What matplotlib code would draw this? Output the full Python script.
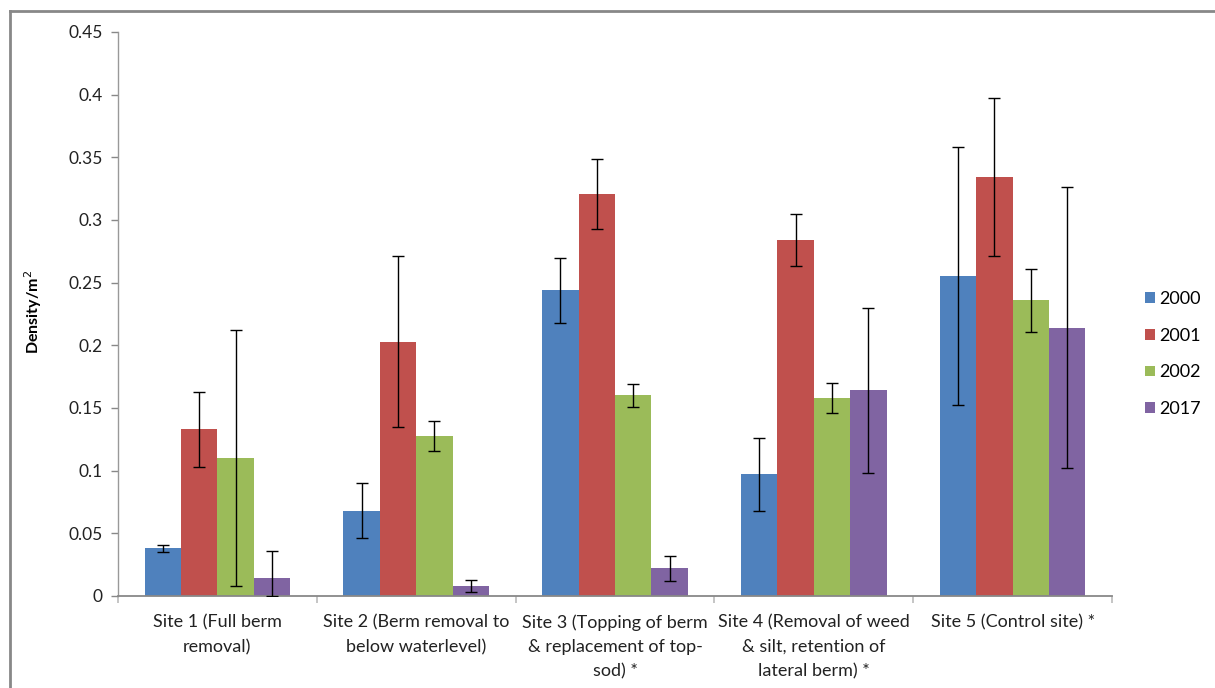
import matplotlib
matplotlib.use("Agg")
import matplotlib.pyplot as plt
import numpy as np
from matplotlib.lines import Line2D

plt.rcParams['font.family'] = ['Lato', 'DejaVu Sans']

sites = [
    "Site 1 (Full berm\nremoval)",
    "Site 2 (Berm removal to\nbelow waterlevel)",
    "Site 3 (Topping of berm\n& replacement of top-\nsod) *",
    "Site 4 (Removal of weed\n& silt, retention of\nlateral berm) *",
    "Site 5 (Control site) *",
]
years = ["2000", "2001", "2002", "2017"]
colors = ["#4F81BD", "#C0504D", "#9BBB59", "#8064A2"]

density_2000 = [0.038, 0.068, 0.244, 0.097, 0.255]
density_2001 = [0.133, 0.203, 0.321, 0.284, 0.334]
density_2002 = [0.110, 0.128, 0.160, 0.158, 0.236]
density_2017 = [0.014, 0.008, 0.022, 0.164, 0.214]

err_2000 = [0.003, 0.022, 0.026, 0.029, 0.103]
err_2001 = [0.030, 0.068, 0.028, 0.021, 0.063]
err_2002 = [0.102, 0.012, 0.009, 0.012, 0.025]
err_2017 = [0.022, 0.005, 0.010, 0.066, 0.112]

values = [density_2000, density_2001, density_2002, density_2017]
errors = [err_2000, err_2001, err_2002, err_2017]

W, H = 1215, 688
fig = plt.figure(figsize=(W / 100, H / 100), dpi=100)
ax = fig.add_axes([118 / W, 1 - 596 / H, (1112 - 118) / W, (596 - 32) / H])

x = np.arange(len(sites))
bw = 0.183
for i, (vals, errs, c, yr) in enumerate(zip(values, errors, colors, years)):
    pos = x + (i - 1.5) * bw
    ax.bar(pos, vals, width=bw, color=c, label=yr, zorder=2)
    lower = np.minimum(errs, vals)
    ax.errorbar(pos, vals, yerr=[lower, errs], fmt='none', ecolor='black',
                elinewidth=1.0, capsize=4.5, capthick=1.0, zorder=3)

ax.set_xlim(-0.5, len(sites) - 0.5)
ax.set_ylim(0, 0.45)
ax.set_yticks(np.arange(0, 0.451, 0.05))
ax.set_yticklabels(["0", "0.05", "0.1", "0.15", "0.2", "0.25", "0.3", "0.35", "0.4", "0.45"])

ax.set_xticks(x)
ax.set_xticklabels(sites, fontsize=13, linespacing=1.62, va='top')
ax.tick_params(axis='x', length=0, pad=13.5, colors='#222222')
ax.set_xticks(np.arange(-0.5, len(sites), 1), minor=True)
ax.tick_params(axis='x', which='minor', length=5, color='#BBBBBB', width=1.2)
ax.tick_params(axis='y', length=5, color='#888888', width=1.0, labelsize=12.5,
               labelcolor='#222222', pad=6)

for s in ['top', 'right']:
    ax.spines[s].set_visible(False)
ax.spines['left'].set_color('#999999')
ax.spines['bottom'].set_color('#888888')
ax.spines['left'].set_linewidth(1.0)
ax.spines['bottom'].set_linewidth(1.3)

fig.text(33 / W, 1 - 312 / H, "Density/m$^{2}$", rotation=90, fontsize=11.5,
         fontweight='bold', ha='center', va='center')

leg = ax.legend(loc='center left', bbox_to_anchor=(1129 / W, 1 - 354 / H),
                bbox_transform=fig.transFigure, frameon=False, fontsize=13,
                handlelength=0.55, handleheight=0.55, handletextpad=0.25,
                labelspacing=1.15)

# chart area frame
frame_kw = dict(color='#888888', linewidth=2, transform=fig.transFigure)
fig.add_artist(Line2D([10 / W, 1.01], [1 - 11 / H, 1 - 11 / H], **frame_kw))
fig.add_artist(Line2D([10 / W, 10 / W], [1 - 11 / H, -0.01], **frame_kw))

fig.savefig("out.png", dpi=100)
